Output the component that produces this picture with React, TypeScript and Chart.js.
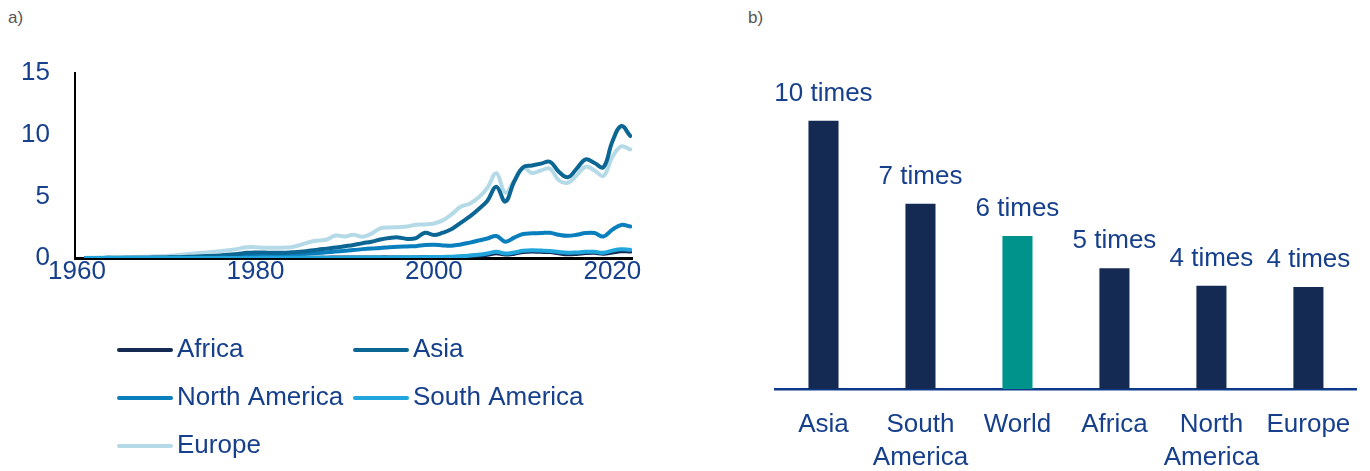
import { useEffect, useRef } from 'react';
import { Chart, registerables } from 'chart.js';

Chart.register(...registerables);

const FONT = '"Liberation Sans", Arial, sans-serif';
const TEXT = '#163f8c';

// ---- Panel a) data ----
const years = [
  1961, 1962, 1963, 1964, 1965, 1966, 1967, 1968, 1969, 1970,
  1971, 1972, 1973, 1974, 1975, 1976, 1977, 1978, 1979, 1980,
  1981, 1982, 1983, 1984, 1985, 1986, 1987, 1988, 1989, 1990,
  1991, 1992, 1993, 1994, 1995, 1996, 1997, 1998, 1999, 2000,
  2001, 2002, 2003, 2004, 2005, 2006, 2007, 2008, 2009, 2010,
  2011, 2012, 2013, 2014, 2015, 2016, 2017, 2018, 2019, 2020,
  2021, 2022,
];

const africa = [
  0.0, 0.0, 0.0, 0.0, 0.0, 0.0, 0.0, 0.0, 0.0, 0.01,
  0.01, 0.01, 0.01, 0.01, 0.01, 0.01, 0.02, 0.02, 0.02, 0.02,
  0.02, 0.02, 0.02, 0.02, 0.03, 0.03, 0.03, 0.03, 0.04, 0.04,
  0.04, 0.04, 0.04, 0.05, 0.05, 0.05, 0.05, 0.05, 0.06, 0.06,
  0.07, 0.08, 0.11, 0.15, 0.2, 0.27, 0.38, 0.28, 0.35, 0.48,
  0.52, 0.5, 0.48, 0.38, 0.3, 0.33, 0.4, 0.42, 0.35, 0.45,
  0.55, 0.52,
];

const asia = [
  0.01, 0.01, 0.01, 0.02, 0.02, 0.02, 0.03, 0.03, 0.04, 0.05,
  0.06, 0.08, 0.11, 0.14, 0.17, 0.21, 0.26, 0.32, 0.42, 0.45,
  0.44, 0.42, 0.43, 0.46, 0.5, 0.58, 0.68, 0.76, 0.85, 0.95,
  1.05, 1.2, 1.32, 1.5, 1.62, 1.67, 1.55, 1.62, 2.05, 1.86,
  2.05, 2.35, 2.85, 3.35, 3.95, 4.65, 5.78, 4.57, 6.2, 7.35,
  7.5, 7.65, 7.8, 7.0, 6.55, 7.25, 8.0, 7.7, 7.35, 9.45,
  10.7, 9.9,
];

const northAmerica = [
  0.005, 0.005, 0.01, 0.01, 0.01, 0.015, 0.02, 0.02, 0.025, 0.03,
  0.04, 0.05, 0.07, 0.09, 0.11, 0.13, 0.16, 0.19, 0.23, 0.26,
  0.27, 0.27, 0.28, 0.3, 0.33, 0.37, 0.41, 0.46, 0.52, 0.58,
  0.64, 0.72, 0.78, 0.82, 0.88, 0.92, 0.94, 0.96, 1.05, 1.08,
  1.02, 1.0, 1.1, 1.25, 1.42, 1.58, 1.78, 1.32, 1.65, 1.95,
  2.0, 2.02, 2.05, 1.88, 1.8, 1.88, 2.02, 2.02, 1.75, 2.3,
  2.68, 2.55,
];

const southAmerica = [
  0.0, 0.0, 0.0, 0.0, 0.0, 0.0, 0.0, 0.0, 0.0, 0.0,
  0.0, 0.0, 0.0, 0.0, 0.0, 0.01, 0.01, 0.01, 0.01, 0.01,
  0.02, 0.02, 0.02, 0.02, 0.02, 0.02, 0.03, 0.03, 0.03, 0.03,
  0.04, 0.04, 0.05, 0.05, 0.05, 0.06, 0.06, 0.06, 0.07, 0.08,
  0.09, 0.1, 0.14, 0.2, 0.27, 0.37, 0.5, 0.36, 0.45, 0.58,
  0.62, 0.6, 0.57, 0.48, 0.42, 0.45, 0.5, 0.5, 0.42, 0.6,
  0.7, 0.66,
];

const europe = [
  0.02, 0.03, 0.04, 0.05, 0.06, 0.07, 0.09, 0.11, 0.14, 0.17,
  0.22, 0.28, 0.36, 0.43, 0.48, 0.55, 0.63, 0.74, 0.88, 0.88,
  0.84, 0.83, 0.84, 0.88, 1.05, 1.28, 1.42, 1.5, 1.82, 1.75,
  1.88, 1.72, 1.98, 2.4, 2.48, 2.5, 2.55, 2.7, 2.72, 2.8,
  3.05, 3.55, 4.15, 4.4, 4.9, 5.7, 6.87, 5.3, 6.3, 7.3,
  6.9, 7.1, 7.25, 6.3, 6.1, 6.7, 7.4, 7.1, 6.65, 8.2,
  9.05, 8.8,
];

const xTickValues = [1960, 1980, 2000, 2020];
const yTickValues = [0, 5, 10, 15];

const seriesNames = ['Africa', 'Asia', 'North America', 'South America', 'Europe'];
const seriesColors = ['#142a52', '#0b6694', '#0a7fbd', '#20a6dc', '#b5dae7'];
const seriesValues = [africa, asia, northAmerica, southAmerica, europe];
// drawing order: first dataset is painted on top
const drawOrder = [3, 1, 2, 0, 4];

// ---- Panel b) data ----
const barCategories = [['Asia'], ['South', 'America'], ['World'], ['Africa'], ['North', 'America'], ['Europe']];
const barValues = [10.0, 6.9, 5.7, 4.5, 3.85, 3.8];
const barLabels = ['10 times', '7 times', '6 times', '5 times', '4 times', '4 times'];
const barColors = ['#142a52', '#142a52', '#00938c', '#142a52', '#142a52', '#142a52'];

const gridLegendPlugin = {
  id: 'gridLegend',
  afterDraw(chart: any) {
    const ctx = chart.ctx;
    const colX = [117, 353];
    const rowY = [350, 398, 446];
    ctx.save();
    ctx.font = `26px ${FONT}`;
    ctx.textBaseline = 'middle';
    ctx.textAlign = 'left';
    seriesNames.forEach((name, i) => {
      const x = colX[i % 2];
      const y = rowY[Math.floor(i / 2)];
      ctx.strokeStyle = seriesColors[i];
      ctx.lineWidth = 4;
      ctx.lineCap = 'round';
      ctx.beginPath();
      ctx.moveTo(x + 2, y);
      ctx.lineTo(x + 54, y);
      ctx.stroke();
      ctx.fillStyle = TEXT;
      ctx.fillText(name, x + 60, y);
    });
    ctx.restore();
  },
};

const barLabelPlugin = {
  id: 'barLabels',
  afterDatasetsDraw(chart: any) {
    const ctx = chart.ctx;
    const meta = chart.getDatasetMeta(0);
    ctx.save();
    ctx.font = `26px ${FONT}`;
    ctx.fillStyle = TEXT;
    ctx.textAlign = 'center';
    ctx.textBaseline = 'middle';
    meta.data.forEach((el: any, i: number) => {
      ctx.fillText(barLabels[i], el.x, el.y - 27);
    });
    ctx.restore();
  },
};

export default function App() {
  const lineRef = useRef<HTMLCanvasElement>(null);
  const barRef = useRef<HTMLCanvasElement>(null);

  useEffect(() => {
    document.body.style.margin = '0';
    const lineChart = new Chart(lineRef.current!, {
      type: 'line',
      data: {
        datasets: drawOrder.map((i) => ({
          label: seriesNames[i],
          data: years.map((yr, k) => ({ x: yr, y: seriesValues[i][k] })),
          borderColor: seriesColors[i],
          backgroundColor: seriesColors[i],
          borderWidth: 4,
          pointRadius: 0,
          tension: 0.4,
          borderCapStyle: 'round',
          borderJoinStyle: 'round',
          fill: false,
        })),
      },
      options: {
        animation: false,
        responsive: false,
        layout: { padding: { left: 0, top: 73, right: 58, bottom: 183 } },
        plugins: { legend: { display: false }, tooltip: { enabled: false } },
        scales: {
          x: {
            type: 'linear',
            min: 1959.78,
            max: 2022.2,
            grid: { display: false, drawTicks: false },
            border: { display: true, color: '#000000', width: 3 },
            afterBuildTicks: (scale: any) => {
              scale.ticks = xTickValues.map((v) => ({ value: v }));
            },
            afterFit: (scale: any) => {
              scale.height = 30;
            },
            ticks: {
              autoSkip: false,
              maxRotation: 0,
              padding: 1,
              color: TEXT,
              font: { family: FONT, size: 26, lineHeight: 1 },
              callback: (v: any) => String(v),
            },
          },
          y: {
            min: 0,
            max: 15,
            grid: { display: false, drawTicks: false },
            border: { display: true, color: '#000000', width: 2 },
            afterBuildTicks: (scale: any) => {
              scale.ticks = yTickValues.map((v) => ({ value: v }));
            },
            afterFit: (scale: any) => {
              scale.width = 75;
            },
            ticks: {
              padding: 25,
              color: TEXT,
              font: { family: FONT, size: 26, lineHeight: 1 },
              callback: (v: any) => String(v),
            },
          },
        },
      },
      plugins: [gridLegendPlugin],
    } as any);

    const barChart = new Chart(barRef.current!, {
      type: 'bar',
      data: {
        labels: barCategories,
        datasets: [
          {
            data: barValues,
            backgroundColor: barColors,
            borderWidth: 0,
            barPercentage: 0.31,
            categoryPercentage: 1,
          },
        ],
      },
      options: {
        animation: false,
        responsive: false,
        layout: { padding: { left: 35, top: 67, right: 8, bottom: 0 } },
        plugins: { legend: { display: false }, tooltip: { enabled: false } },
        scales: {
          x: {
            grid: { display: false, drawTicks: false },
            border: { display: true, color: '#0d3a8a', width: 2.5 },
            afterFit: (scale: any) => {
              scale.height = 82;
            },
            ticks: {
              autoSkip: false,
              maxRotation: 0,
              padding: 19,
              color: TEXT,
              font: { family: FONT, size: 26, lineHeight: '33px' },
            },
          },
          y: { display: false, min: 0, max: 12 },
        },
      },
      plugins: [barLabelPlugin],
    } as any);

    return () => {
      lineChart.destroy();
      barChart.destroy();
    };
  }, []);

  const tag = {
    position: 'absolute' as const,
    top: 9,
    fontFamily: FONT,
    fontSize: 17,
    lineHeight: '17px',
    color: '#555555',
  };

  return (
    <div style={{ position: 'relative', width: 1370, height: 471, background: '#ffffff', overflow: 'hidden' }}>
      <div style={{ ...tag, left: 8 }}>a)</div>
      <div style={{ ...tag, left: 748 }}>b)</div>
      <canvas ref={lineRef} width={690} height={471} style={{ position: 'absolute', left: 0, top: 0 }} />
      <canvas ref={barRef} width={630} height={471} style={{ position: 'absolute', left: 740, top: 0 }} />
    </div>
  );
}
